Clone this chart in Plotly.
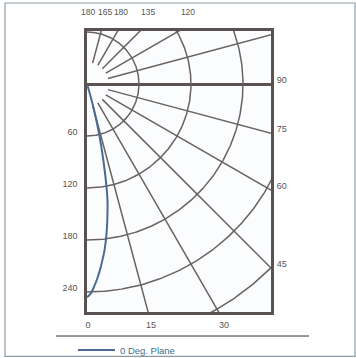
import numpy as np
import plotly.graph_objects as go

# ---- data -------------------------------------------------------------
# candela distribution, 0 deg plane (angle from nadir, degrees)
curve_angles = [0, 1, 2, 3, 4, 5, 6, 7, 8, 9, 10, 11, 12, 13, 14, 15, 16, 17, 18]
curve_candela = [246, 242, 234, 225, 215, 204, 193, 180, 166, 151, 136, 115, 92, 72, 52, 32, 16, 6, 0]

# polar grid
grid_radii = [60, 120, 180, 240, 300]
radial_angles = [15, 30, 45, 60, 75, 105, 120, 135, 150, 165]
radial_inner = 25
radial_outer = 420

# tick labels
left_tick_values = [60, 120, 180, 240]
right_tick_angles = [105, 90, 75, 60, 45]
top_tick_labels = ["180", "165", "180", "135", "120"]
top_tick_pos = [1.2, 20.8, 39.2, 70.4, 116.5]
bottom_tick_labels = ["0", "15", "30"]
bottom_tick_pos = [1.2, 73.8, 158.0]

# ---- geometry ---------------------------------------------------------
XMAX = 212.3
YMIN, YMAX = -263.1, 61.2
LABEL_SHIFT = 5.0

FONT = "Liberation Sans, Arial, sans-serif"
GRID = "#6a6262"
FRAME = "#5a5251"
TXT = "#555555"


def polar_xy(r, a_deg):
    a = np.radians(np.asarray(a_deg, dtype=float))
    r = np.asarray(r, dtype=float)
    return r * np.sin(a), -r * np.cos(a)


fig = go.Figure()

# arcs
theta = np.linspace(0, 180, 361)
for R in grid_radii:
    x, y = polar_xy(np.full_like(theta, R), theta)
    fig.add_trace(go.Scatter(x=x, y=y, mode="lines", line=dict(color=GRID, width=1.5),
                             showlegend=False, hoverinfo="skip"))

# radial lines
for a in radial_angles:
    x, y = polar_xy([radial_inner, radial_outer], [a, a])
    fig.add_trace(go.Scatter(x=x, y=y, mode="lines", line=dict(color=GRID, width=1.5),
                             showlegend=False, hoverinfo="skip"))

# curve
cx, cy = polar_xy(curve_candela, curve_angles)
fig.add_trace(go.Scatter(x=cx, y=cy, mode="lines", name="0 Deg. Plane",
                         line=dict(color="#4d6a92", width=2, shape="spline"),
                         showlegend=True))

right_vals = [-XMAX * np.cos(np.radians(a)) / np.sin(np.radians(a)) + LABEL_SHIFT
              for a in right_tick_angles]

fig.update_layout(
    width=356, height=358,
    margin=dict(l=87, r=85, t=31, b=46),
    paper_bgcolor="white",
    plot_bgcolor="#fbfcfd",
    font=dict(family=FONT, size=9, color=TXT),
    xaxis=dict(range=[0, XMAX], showgrid=False, zeroline=False, automargin=False,
               showline=True, mirror=True, linewidth=2.5, linecolor=FRAME,
               tickvals=bottom_tick_pos, ticktext=bottom_tick_labels, tickangle=0,
               ticks="outside", ticklen=2, tickcolor="rgba(0,0,0,0)"),
    xaxis2=dict(range=[0, XMAX], overlaying="x", side="top", showgrid=False,
                zeroline=False, showline=False, automargin=False, tickangle=0,
                tickvals=top_tick_pos, ticktext=top_tick_labels,
                tickfont=dict(size=8.5),
                ticks="outside", ticklen=12, tickcolor="rgba(0,0,0,0)"),
    yaxis=dict(range=[YMIN, YMAX], showgrid=False, automargin=False,
               zeroline=True, zerolinewidth=2.5, zerolinecolor=FRAME,
               showline=True, mirror=True, linewidth=2.5, linecolor=FRAME,
               tickvals=[-v + LABEL_SHIFT for v in left_tick_values],
               ticktext=[str(v) for v in left_tick_values],
               ticks="outside", ticklen=5, tickcolor="rgba(0,0,0,0)"),
    yaxis2=dict(range=[YMIN, YMAX], overlaying="y", side="right", showgrid=False,
                zeroline=False, showline=False, automargin=False,
                tickvals=right_vals, ticktext=[str(a) for a in right_tick_angles],
                ticks="outside", ticklen=3, tickcolor="rgba(0,0,0,0)"),
    showlegend=True,
    legend=dict(orientation="h", xref="container", yref="container",
                x=0.205, xanchor="left", y=8 / 358, yanchor="middle",
                itemwidth=37,
                font=dict(family=FONT, size=9.5, color="#3d6f8f"),
                bgcolor="rgba(0,0,0,0)"),
    shapes=[
        dict(type="line", xref="paper", yref="paper", x0=-0.1685, x1=1.2065,
             y0=-0.0855, y1=-0.0855, line=dict(color="#333333", width=1)),
        dict(type="rect", xref="paper", yref="paper", x0=-0.4457, x1=1.4565,
             y0=-0.158, y1=1.0996, line=dict(color="#8d9ba4", width=1.2)),
    ],
)

# dummy trace to activate the secondary axes
fig.add_trace(go.Scatter(x=[None], y=[None], xaxis="x2", yaxis="y2",
                         showlegend=False, hoverinfo="skip"))

fig.write_html("out.html", config={"displayModeBar": False},
               post_script="document.body.style.margin='0';")
